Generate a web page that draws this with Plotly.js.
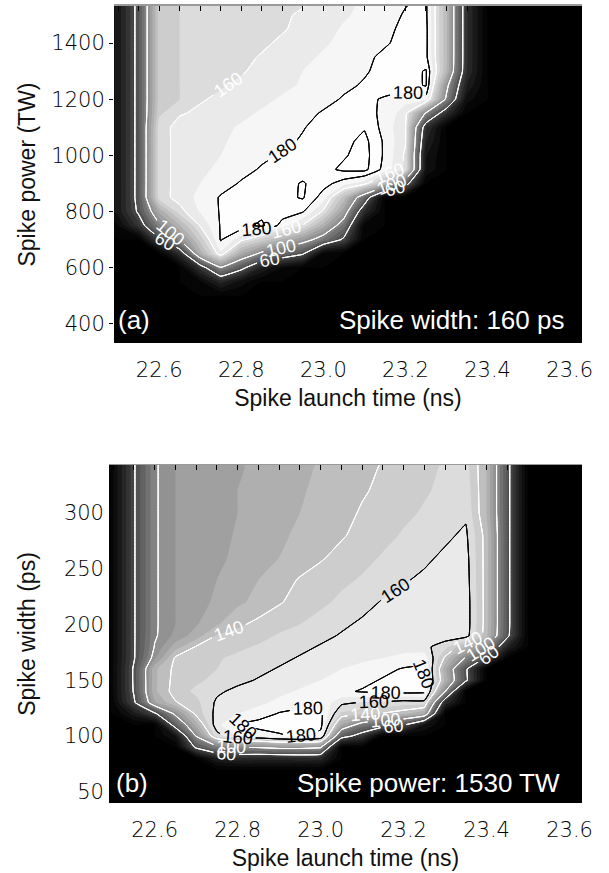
<!DOCTYPE html>
<html>
<head>
<meta charset="utf-8">
<script src="https://cdn.plot.ly/plotly-3.0.1.min.js"></script>
<style>html,body{margin:0;padding:0;background:#fff}#chart{width:609px;height:873px}</style>
</head>
<body>
<div id="chart"></div>
<script>
// ---- data ----
const launchTimes = [22.45,22.50,22.55,22.60,22.65,22.70,22.75,22.80,22.85,22.90,22.95,23.00,23.05,23.10,23.15,23.20,23.25,23.30,23.35,23.40,23.45,23.50,23.55,23.60,23.65];

// panel (a): spike width 160 ps, rows = spike power (TW)
const spikePowers = [300,350,400,450,500,550,600,650,700,750,800,850,900,950,1000,1050,1100,1150,1200,1250,1300,1350,1400,1450,1500,1550];
const gainPowerScan = [
 [0,0,0,0,0,0,0,0,0,0,0,0,0,0,0,0,0,0,0,0,0,0,0,0,0],
 [0,0,0,0,0,0,0,0,0,0,0,0,0,0,0,0,0,0,0,0,0,0,0,0,0],
 [0,0,0,0,0,0,0,0,0,0,0,0,0,0,0,0,0,0,0,0,0,0,0,0,0],
 [0,0,0,0,0,0,0,0,0,0,0,0,0,0,0,0,0,0,0,0,0,0,0,0,0],
 [0,0,0,0,0,0,0,0,0,0,0,0,0,0,0,0,0,0,0,0,0,0,0,0,0],
 [0,0,0,0,0,8,35,15,0,0,0,0,0,0,0,0,0,0,0,0,0,0,0,0,0],
 [0,0,0,0,0,45,98,68,30,10,0,0,0,0,0,0,0,0,0,0,0,0,0,0,0],
 [0,0,0,0,40,124,168,122,94,81,63,5,0,0,0,0,0,0,0,0,0,0,0,0,0],
 [0,0,0,55,101,144,181,163,146,128,111,88,55,0,0,0,0,0,0,0,0,0,0,0,0],
 [0,10,45,96,129,161,181,187,192,176,159,125,86,5,0,0,0,0,0,0,0,0,0,0,0],
 [0,24,64,122,156,171,181,184,187,185,181,158,114,39,0,0,0,0,0,0,0,0,0,0,0],
 [0,24,68,155,164,173,181,183,185,187,191,175,136,80,0,0,0,0,0,0,0,0,0,0,0],
 [0,24,68,155,164,170,176,181,183,186,191,184,175,165,131,72,0,0,0,0,0,0,0,0,0],
 [0,24,68,155,164,168,172,177,181,183,185,187,192,193,176,158,18,0,0,0,0,0,0,0,0],
 [0,24,68,155,164,167,170,174,178,181,183,185,189,194,178,158,21,0,0,0,0,0,0,0,0],
 [0,24,68,155,164,166,169,172,175,178,181,184,187,193,178,161,31,0,0,0,0,0,0,0,0],
 [0,24,68,155,164,166,168,171,174,176,179.5,183,186,189,176,161,43,0,0,0,0,0,0,0,0],
 [0,24,68,148,159,162,165,168,171,174,177,181,183,183,178,164,97,41,0,0,0,0,0,0,0],
 [0,24,68,145,150,159,162,165,168,171,174,177,181,182,179,174,175,95,14,0,0,0,0,0,0],
 [0,24,68,145,150,152,159,162,165,168,171,175,178,181,184,185,191,107,29,0,0,0,0,0,0],
 [0,24,68,145,150,152,155,159,163,166,170,173,176,179,183,185,191,130,40,0,0,0,0,0,0],
 [0,24,68,145,150,152,154,157,161,164,168,171,174,178,182,184,183,132,41,0,0,0,0,0,0],
 [0,24,68,145,150,152,154,157,158,162,165,169,172,176,179,183,183,132,41,0,0,0,0,0,0],
 [0,24,68,145,150,152,154,156,158,159,163,167,171,174,178,182,183,132,41,0,0,0,0,0,0],
 [0,24,68,145,150,152,154,156,157,159,161,165,169,172,176,181,182,132,41,0,0,0,0,0,0],
 [0,24,68,145,150,152,154,156,157,158,159,164,168,171,175,179,182,132,41,0,0,0,0,0,0]
];

// panel (b): spike power 1530 TW, rows = spike width (ps)
const spikeWidths = [30,50,60,70,80,90,100,110,120,130,140,150,160,170,180,190,200,220,240,260,280,300,320,340,360];
const gainWidthScan = [
 [0,0,0,0,0,0,0,0,0,0,0,0,0,0,0,0,0,0,0,0,0,0,0,0,0],
 [0,0,0,0,0,0,0,0,0,0,0,0,0,0,0,0,0,0,0,0,0,0,0,0,0],
 [0,0,0,0,0,0,0,0,0,0,0,0,0,0,0,0,0,0,0,0,0,0,0,0,0],
 [0,0,0,0,0,0,0,0,0,0,0,0,0,0,0,0,0,0,0,0,0,0,0,0,0],
 [0,0,0,0,0,0,30,38,36,36,38,36,0,0,0,0,0,0,0,0,0,0,0,0,0],
 [0,0,0,0,0,65,92,101,102,108,108,103,0,0,0,0,0,0,0,0,0,0,0,0,0],
 [0,0,0,0,20,101,155,170,172,178,182,175,73,47,0,0,0,0,0,0,0,0,0,0,0],
 [0,0,0,0,73,125,167,181,185,186,187,184,120,89,75,62,20,0,0,0,0,0,0,0,0],
 [0,0,25,55,105,143,164,170,174,181,184,183,148,143,139,133,120,0,0,0,0,0,0,0,0],
 [0,8,56,118,139,147,162,165,168,172,175,178,163,159,158,155,155,40,0,0,0,0,0,0,0],
 [0,10,62,128,145,152,158,163,165,168,171,174,178,181,183,184,183,100,0,0,0,0,0,0,0],
 [0,10,63,128,144,148,153,157,161,164,167,170,173,177,181,183,182,128,65,0,0,0,0,0,0],
 [0,10,63,128,143,146,150,154,157,161,164,167,170,173,177,181,182,124,64,0,0,0,0,0,0],
 [0,10,58,108,142,146,149,152,155,157,161,164,166,168,170,173,176,138,98,58,0,0,0,0,0],
 [0,10,58,101,125,141,145,148,151,154,157,161,163,164,165,166,163,154,130,99,33,0,0,0,0],
 [0,10,58,98,113,125,141,144,147,151,154,157,161,163,164,165,166,166,165,133,66,0,0,0,0],
 [0,10,58,98,110,119,129,138,143,147,150,154,158,162,163,164,165,166,166,135,68,0,0,0,0],
 [0,10,58,98,110,116,122,128,133,139,144,148,152,156,161,163,164,165,166,135,68,0,0,0,0],
 [0,10,58,98,110,115,120,125,130,135,141,144,148,151,155,159,162,164,165,135,68,0,0,0,0],
 [0,10,58,98,110,114,118,122,126,130,134,139,143,147,151,154,158,162,164,135,68,0,0,0,0],
 [0,10,58,98,110,114,117,121,125,128,132,136,139,143,147,151,154,158,162,135,68,0,0,0,0],
 [0,10,58,98,110,113,117,120,124,127,130,134,137,141,144,148,151,155,158,130,68,0,0,0,0],
 [0,10,58,98,110,113,116,120,123,126,129,132,135,139,142,146,149,152,156,130,68,0,0,0,0],
 [0,10,58,98,110,113,116,119,122,125,128,131,134,137,141,144,148,151,154,130,68,0,0,0,0],
 [0,10,58,98,110,113,116,119,122,125,128,130,133,136,139,143,147,150,153,130,68,0,0,0,0]
];

const levelsA = [60,100,160,180,190];
const levelColorsA = ['#ffffff','#ffffff','#ffffff','#000000','#000000'];
const levelsB = [60,100,140,160,180];
const levelColorsB = ['#ffffff','#ffffff','#ffffff','#000000','#000000'];

const timeTicks = [22.6,22.8,23.0,23.2,23.4,23.6];
const timeTickText = ['22.6','22.8','23.0','23.2','23.4','23.6'];
const powerTicks = [400,600,800,1000,1200,1400];
const powerTickText = ['400','600','800','1000','1200','1400'];
const widthTicks = [50,100,150,200,250,300];
const widthTickText = ['50','100','150','200','250','300'];

// ---- styling ----
const grayScale = [
 [0,'rgb(0,0,0)'],[0.105,'rgb(18,18,18)'],[0.21,'rgb(44,44,44)'],[0.316,'rgb(75,75,75)'],
 [0.421,'rgb(106,106,106)'],[0.526,'rgb(138,138,138)'],[0.632,'rgb(168,168,168)'],
 [0.737,'rgb(198,198,198)'],[0.789,'rgb(212,212,212)'],[0.842,'rgb(228,228,228)'],
 [0.895,'rgb(240,240,240)'],[0.947,'rgb(252,252,252)'],[1,'rgb(255,255,255)']
];
const tickFont = {family:'DejaVu Sans, sans-serif', size:21, weight:200, color:'#000'};
const titleFont = {family:'Liberation Sans, Arial, sans-serif', size:23, color:'#111'};
const SMOOTH = 0.3;

function fillTrace(z, y, xa, ya){
  return {type:'contour', x:launchTimes, y:y, z:z, xaxis:xa, yaxis:ya,
    colorscale:grayScale, zmin:0, zmax:190, zauto:false, autocontour:false,
    contours:{start:0, end:190, size:10, coloring:'fill', showlines:false},
    line:{width:0, smoothing:SMOOTH}, showscale:false, hoverinfo:'skip'};
}
// each labelled level is traced at three almost identical values so that
// plotly spreads several labels along the same line, as in the original
function lineTrace(z, y, level, col, xa, ya){
  return {type:'contour', x:launchTimes, y:y, z:z, xaxis:xa, yaxis:ya,
    autocontour:false,
    contours:{start:level, end:level+0.021, size:0.01, coloring:'none', showlabels:true, labelformat:'.0f',
      labelfont:{family:'Liberation Sans, Arial, sans-serif', size:18, color:col}},
    line:{color:col, width:1, smoothing:SMOOTH}, showscale:false, hoverinfo:'skip'};
}

const traces = [fillTrace(gainPowerScan, spikePowers, 'x', 'y')];
levelsA.forEach((L,i)=>traces.push(lineTrace(gainPowerScan, spikePowers, L, levelColorsA[i], 'x3', 'y')));
traces.push(fillTrace(gainWidthScan, spikeWidths, 'x2', 'y2'));
levelsB.forEach((L,i)=>traces.push(lineTrace(gainWidthScan, spikeWidths, L, levelColorsB[i], 'x4', 'y2')));

function bottomAxis(dom, anchor){
  return {domain:dom, anchor:anchor, range:[22.49,23.63], tickmode:'array', tickvals:timeTicks, ticktext:timeTickText,
    ticks:'', showgrid:false, zeroline:false, showline:false, tickfont:tickFont, ticklabelstandoff:12,
    title:{text:'Spike launch time (ns)', font:titleFont, standoff:8}, fixedrange:true};
}
function topAxis(over, anchor){
  return {overlaying:over, anchor:anchor, side:'top', range:[22.49,23.63], tickmode:'linear', tick0:22.5, dtick:0.05,
    ticks:'inside', ticklen:5, tickwidth:1, tickcolor:'#000', showticklabels:false, showline:true,
    linecolor:'#9a9a9a', linewidth:1.5, showgrid:false, zeroline:false, fixedrange:true};
}

const annFont = {family:'Liberation Sans, Arial, sans-serif', size:26, color:'#ffffff'};
const layout = {
  width:609, height:873, margin:{l:0,r:0,t:0,b:0},
  paper_bgcolor:'#ffffff', plot_bgcolor:'#000000', showlegend:false,
  xaxis: bottomAxis([0.18719,0.95567],'y'),
  xaxis3: topAxis('x','y'),
  yaxis: {domain:[0.6071,0.99313], anchor:'x', range:[332,1532], tickmode:'array', tickvals:powerTicks, ticktext:powerTickText,
    ticks:'outside', ticklen:4, tickcolor:'#000', showgrid:false, zeroline:false, showline:false, tickfont:tickFont,
    title:{text:'Spike power (TW)', font:titleFont, standoff:9}, fixedrange:true},
  xaxis2: bottomAxis([0.17898,0.95567],'y2'),
  xaxis4: topAxis('x2','y2'),
  yaxis2: {domain:[0.08018,0.46735], anchor:'x2', range:[40,343], tickmode:'array', tickvals:widthTicks, ticktext:widthTickText,
    ticks:'', showgrid:false, zeroline:false, showline:false, tickfont:tickFont, ticklabelstandoff:4,
    title:{text:'Spike width (ps)', font:titleFont, standoff:21}, fixedrange:true},
  annotations:[
    {xref:'paper', yref:'paper', x:116/609, y:(873-320)/873, xanchor:'left', yanchor:'middle', text:'(a)', showarrow:false, font:annFont},
    {xref:'paper', yref:'paper', x:566/609, y:(873-320)/873, xanchor:'right', yanchor:'middle', text:'Spike width: 160 ps', showarrow:false, font:annFont},
    {xref:'paper', yref:'paper', x:114/609, y:(873-783)/873, xanchor:'left', yanchor:'middle', text:'(b)', showarrow:false, font:annFont},
    {xref:'paper', yref:'paper', x:562/609, y:(873-783)/873, xanchor:'right', yanchor:'middle', text:'Spike power: 1530 TW', showarrow:false, font:annFont}
  ]
};

Plotly.newPlot('chart', traces, layout, {staticPlot:true, displayModeBar:false});
</script>
</body>
</html>
